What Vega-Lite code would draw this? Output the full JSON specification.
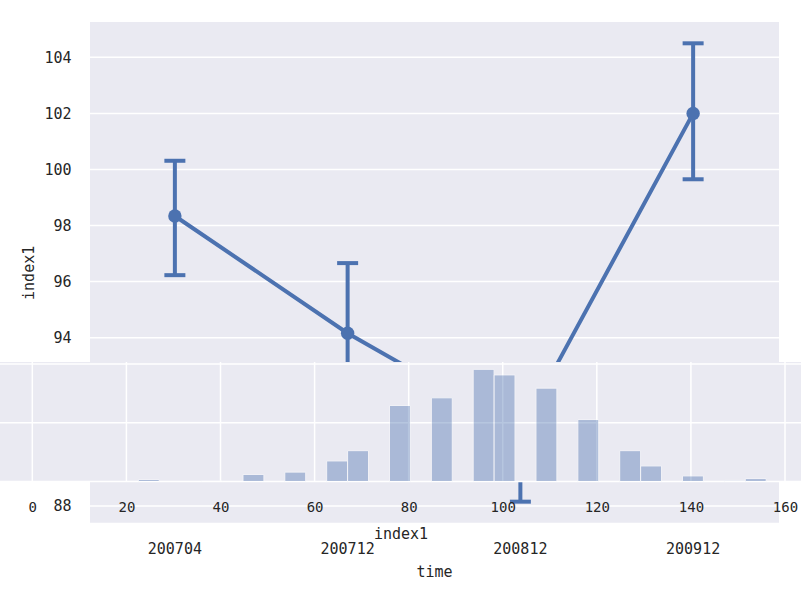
{
  "$schema": "https://vega.github.io/schema/vega-lite/v6.json",
  "width": 801,
  "height": 593,
  "padding": 0,
  "autosize": {"type": "none"},
  "background": "white",
  "config": {
    "view": {"stroke": null},
    "axis": {
      "labelFont": "DejaVu Sans Mono",
      "titleFont": "DejaVu Sans Mono",
      "labelColor": "#262626",
      "titleColor": "#262626",
      "titleFontWeight": "normal",
      "grid": false,
      "ticks": false,
      "domain": false
    }
  },
  "layer": [
    {
      "layer": [
        {
          "data": {"values": [{"panel": "main"}]},
          "mark": {"type": "rect", "color": "#EAEAF2"},
          "encoding": {
            "x": {"datum": 0, "type": "quantitative", "scale": {"domain": [0, 1], "range": [90, 779], "nice": false, "zero": false, "padding": 0}, "axis": null},
            "x2": {"datum": 1},
            "y": {"datum": 87.4, "type": "quantitative", "scale": {"domain": [87.4, 105.26], "range": [522.7, 22], "nice": false, "zero": false, "padding": 0}, "axis": null},
            "y2": {"datum": 105.26}
          }
        },
        {
          "data": {"values": [{"g": 88}, {"g": 90}, {"g": 92}, {"g": 94}, {"g": 96}, {"g": 98}, {"g": 100}, {"g": 102}, {"g": 104}]},
          "mark": {"type": "rule", "color": "white", "strokeWidth": 1.5},
          "encoding": {
            "y": {"field": "g", "type": "quantitative", "axis": null},
            "x": {"datum": 0, "type": "quantitative", "axis": null},
            "x2": {"datum": 1}
          }
        }
      ]
    },
    {
      "data": {"values": [
        {"time": "200704", "mean": 98.34, "lo": 96.23, "hi": 100.31},
        {"time": "200712", "mean": 94.16, "lo": 91.66, "hi": 96.66},
        {"time": "200812", "mean": 90.65, "lo": 88.15, "hi": 93.0},
        {"time": "200912", "mean": 102.0, "lo": 99.65, "hi": 104.5}
      ]},
      "encoding": {
        "x": {
          "field": "time", "type": "nominal", "title": "time",
          "scale": {"type": "band", "range": [88.5, 779.5], "paddingInner": 0, "paddingOuter": 0},
          "axis": {"orient": "bottom", "offset": -70.3, "labelPadding": 19, "labelAngle": 0, "labelFontSize": 15, "titleFontSize": 15, "titlePadding": 8, "zindex": 0}
        }
      },
      "layer": [
        {
          "mark": {"type": "rule", "color": "#4C72B0", "strokeWidth": 4},
          "encoding": {
            "y": {
              "field": "lo", "type": "quantitative", "title": "index1",
              "scale": {"domain": [87.4, 105.26], "range": [522.7, 22], "nice": false, "zero": false, "padding": 0},
              "axis": {"orient": "left", "offset": -89, "values": [88, 90, 92, 94, 96, 98, 100, 102, 104], "labelPadding": 18, "labelFontSize": 15, "titleFontSize": 15, "titlePadding": 7, "zindex": 0}
            },
            "y2": {"field": "hi"}
          }
        },
        {
          "mark": {"type": "tick", "color": "#4C72B0", "size": 21, "thickness": 4, "opacity": 1},
          "encoding": {"y": {"field": "lo", "type": "quantitative", "title": "index1"}}
        },
        {
          "mark": {"type": "tick", "color": "#4C72B0", "size": 21, "thickness": 4, "opacity": 1},
          "encoding": {"y": {"field": "hi", "type": "quantitative", "title": "index1"}}
        },
        {
          "mark": {"type": "line", "color": "#4C72B0", "strokeWidth": 4, "strokeCap": "round"},
          "encoding": {"y": {"field": "mean", "type": "quantitative", "title": "index1"}}
        },
        {
          "mark": {"type": "circle", "color": "#4C72B0", "size": 180, "opacity": 1},
          "encoding": {"y": {"field": "mean", "type": "quantitative", "title": "index1"}}
        }
      ]
    },
    {
      "layer": [
        {
          "data": {"values": [{"panel": "hist"}]},
          "mark": {"type": "rect", "color": "#EAEAF2"},
          "encoding": {
            "x": {"datum": -6.87, "type": "quantitative", "title": "index1", "scale": {"domain": [-6.87, 163.4], "range": [0, 801], "nice": false, "zero": false, "padding": 0}},
            "x2": {"datum": 163.4},
            "y": {"datum": 0, "type": "quantitative", "scale": {"domain": [0, 0.0407], "range": [481.5, 362], "nice": false, "zero": false, "padding": 0}, "axis": null},
            "y2": {"datum": 0.0407}
          }
        },
        {
          "data": {"values": [{"v": 0}, {"v": 20}, {"v": 40}, {"v": 60}, {"v": 80}, {"v": 100}, {"v": 120}, {"v": 140}, {"v": 160}]},
          "mark": {"type": "rule", "color": "white", "strokeWidth": 1.5},
          "encoding": {
            "x": {"field": "v", "type": "quantitative", "title": "index1"},
            "y": {"datum": 0, "type": "quantitative", "axis": null},
            "y2": {"datum": 0.0407}
          }
        },
        {
          "data": {"values": [{"d": 0}, {"d": 0.02}, {"d": 0.04}]},
          "mark": {"type": "rule", "color": "white", "strokeWidth": 1.5},
          "encoding": {
            "y": {"field": "d", "type": "quantitative", "axis": null}
          }
        },
        {
          "data": {"values": [
            {"lo": 22.53, "hi": 26.98, "density": 0.0007},
            {"lo": 26.98, "hi": 31.43, "density": 0},
            {"lo": 31.43, "hi": 35.88, "density": 0},
            {"lo": 35.88, "hi": 40.33, "density": 0.0003},
            {"lo": 40.33, "hi": 44.78, "density": 0},
            {"lo": 44.78, "hi": 49.23, "density": 0.0024},
            {"lo": 49.23, "hi": 53.67, "density": 0},
            {"lo": 53.67, "hi": 58.12, "density": 0.0032},
            {"lo": 58.12, "hi": 62.57, "density": 0},
            {"lo": 62.57, "hi": 67.02, "density": 0.007},
            {"lo": 67.02, "hi": 71.47, "density": 0.0105},
            {"lo": 71.47, "hi": 75.92, "density": 0},
            {"lo": 75.92, "hi": 80.37, "density": 0.0259},
            {"lo": 80.37, "hi": 84.82, "density": 0},
            {"lo": 84.82, "hi": 89.27, "density": 0.0285},
            {"lo": 89.27, "hi": 93.71, "density": 0},
            {"lo": 93.71, "hi": 98.16, "density": 0.0382},
            {"lo": 98.16, "hi": 102.61, "density": 0.0363},
            {"lo": 102.61, "hi": 107.06, "density": 0},
            {"lo": 107.06, "hi": 111.51, "density": 0.0318},
            {"lo": 111.51, "hi": 115.96, "density": 0},
            {"lo": 115.96, "hi": 120.41, "density": 0.0211},
            {"lo": 120.41, "hi": 124.86, "density": 0},
            {"lo": 124.86, "hi": 129.31, "density": 0.0105},
            {"lo": 129.31, "hi": 133.76, "density": 0.0053},
            {"lo": 133.76, "hi": 138.2, "density": 0},
            {"lo": 138.2, "hi": 142.65, "density": 0.0019},
            {"lo": 142.65, "hi": 147.1, "density": 0},
            {"lo": 147.1, "hi": 151.55, "density": 0.0004},
            {"lo": 151.55, "hi": 156.0, "density": 0.001}
          ]},
          "mark": {"type": "rect", "color": "#4C72B0", "opacity": 0.4, "stroke": "white", "strokeWidth": 1},
          "encoding": {
            "x": {
              "field": "lo", "type": "quantitative", "title": "index1",
              "axis": {"orient": "bottom", "offset": -111.5, "values": [0, 20, 40, 60, 80, 100, 120, 140, 160], "labelPadding": 18.5, "labelAngle": 0, "labelFontSize": 14, "titleFontSize": 15, "titlePadding": 12, "zindex": 1}
            },
            "x2": {"field": "hi"},
            "y": {"field": "density", "type": "quantitative", "axis": null},
            "y2": {"datum": 0}
          }
        }
      ]
    }
  ],
  "resolve": {"scale": {"x": "independent", "y": "independent"}}
}
